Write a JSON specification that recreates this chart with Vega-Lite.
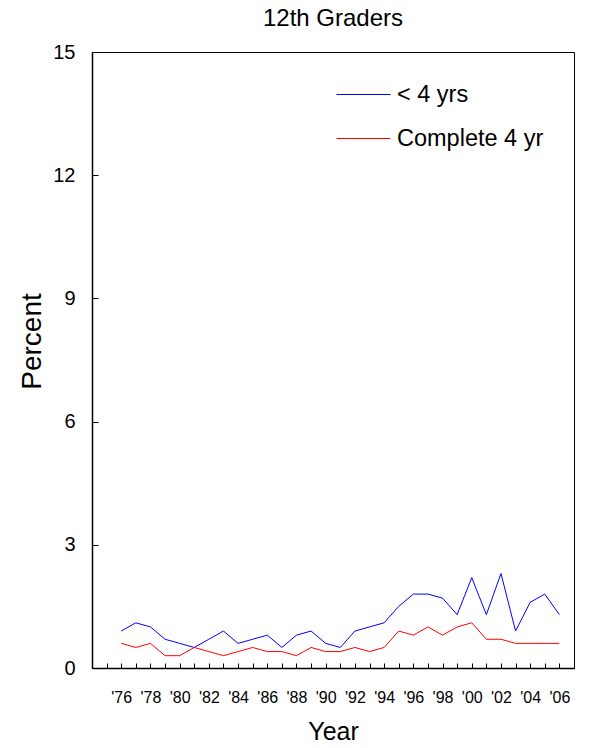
{
  "$schema": "https://vega.github.io/schema/vega-lite/v6.json",
  "autosize": {"type": "none"},
  "width": 482,
  "height": 616,
  "padding": {"left": 92, "top": 52, "right": 17, "bottom": 80},
  "background": "white",
  "config": {
    "font": "Liberation Sans",
    "view": {"stroke": "black", "strokeWidth": 1},
    "axis": {"domainColor": "black", "domainWidth": 1.5, "tickColor": "black", "labelColor": "black", "titleColor": "black", "grid": false, "titleFontWeight": "normal", "labelFont": "Liberation Sans", "titleFont": "Liberation Sans"}
  },
  "title": {"text": "12th Graders", "fontSize": 24, "fontWeight": "normal", "font": "Liberation Sans", "color": "black", "anchor": "middle", "baseline": "alphabetic", "offset": -8},
  "data": {
    "values": [
      {"year": 1976, "group": "< 4 yrs", "pct": 0.9},
      {"year": 1977, "group": "< 4 yrs", "pct": 1.1},
      {"year": 1978, "group": "< 4 yrs", "pct": 1.0},
      {"year": 1979, "group": "< 4 yrs", "pct": 0.7},
      {"year": 1980, "group": "< 4 yrs", "pct": 0.6},
      {"year": 1981, "group": "< 4 yrs", "pct": 0.5},
      {"year": 1982, "group": "< 4 yrs", "pct": 0.7},
      {"year": 1983, "group": "< 4 yrs", "pct": 0.9},
      {"year": 1984, "group": "< 4 yrs", "pct": 0.6},
      {"year": 1985, "group": "< 4 yrs", "pct": 0.7},
      {"year": 1986, "group": "< 4 yrs", "pct": 0.8},
      {"year": 1987, "group": "< 4 yrs", "pct": 0.5},
      {"year": 1988, "group": "< 4 yrs", "pct": 0.8},
      {"year": 1989, "group": "< 4 yrs", "pct": 0.9},
      {"year": 1990, "group": "< 4 yrs", "pct": 0.6},
      {"year": 1991, "group": "< 4 yrs", "pct": 0.5},
      {"year": 1992, "group": "< 4 yrs", "pct": 0.9},
      {"year": 1993, "group": "< 4 yrs", "pct": 1.0},
      {"year": 1994, "group": "< 4 yrs", "pct": 1.1},
      {"year": 1995, "group": "< 4 yrs", "pct": 1.5},
      {"year": 1996, "group": "< 4 yrs", "pct": 1.8},
      {"year": 1997, "group": "< 4 yrs", "pct": 1.8},
      {"year": 1998, "group": "< 4 yrs", "pct": 1.7},
      {"year": 1999, "group": "< 4 yrs", "pct": 1.3},
      {"year": 2000, "group": "< 4 yrs", "pct": 2.2},
      {"year": 2001, "group": "< 4 yrs", "pct": 1.3},
      {"year": 2002, "group": "< 4 yrs", "pct": 2.3},
      {"year": 2003, "group": "< 4 yrs", "pct": 0.9},
      {"year": 2004, "group": "< 4 yrs", "pct": 1.6},
      {"year": 2005, "group": "< 4 yrs", "pct": 1.8},
      {"year": 2006, "group": "< 4 yrs", "pct": 1.3},
      {"year": 1976, "group": "Complete 4 yr", "pct": 0.6},
      {"year": 1977, "group": "Complete 4 yr", "pct": 0.5},
      {"year": 1978, "group": "Complete 4 yr", "pct": 0.6},
      {"year": 1979, "group": "Complete 4 yr", "pct": 0.3},
      {"year": 1980, "group": "Complete 4 yr", "pct": 0.3},
      {"year": 1981, "group": "Complete 4 yr", "pct": 0.5},
      {"year": 1982, "group": "Complete 4 yr", "pct": 0.4},
      {"year": 1983, "group": "Complete 4 yr", "pct": 0.3},
      {"year": 1984, "group": "Complete 4 yr", "pct": 0.4},
      {"year": 1985, "group": "Complete 4 yr", "pct": 0.5},
      {"year": 1986, "group": "Complete 4 yr", "pct": 0.4},
      {"year": 1987, "group": "Complete 4 yr", "pct": 0.4},
      {"year": 1988, "group": "Complete 4 yr", "pct": 0.3},
      {"year": 1989, "group": "Complete 4 yr", "pct": 0.5},
      {"year": 1990, "group": "Complete 4 yr", "pct": 0.4},
      {"year": 1991, "group": "Complete 4 yr", "pct": 0.4},
      {"year": 1992, "group": "Complete 4 yr", "pct": 0.5},
      {"year": 1993, "group": "Complete 4 yr", "pct": 0.4},
      {"year": 1994, "group": "Complete 4 yr", "pct": 0.5},
      {"year": 1995, "group": "Complete 4 yr", "pct": 0.9},
      {"year": 1996, "group": "Complete 4 yr", "pct": 0.8},
      {"year": 1997, "group": "Complete 4 yr", "pct": 1.0},
      {"year": 1998, "group": "Complete 4 yr", "pct": 0.8},
      {"year": 1999, "group": "Complete 4 yr", "pct": 1.0},
      {"year": 2000, "group": "Complete 4 yr", "pct": 1.1},
      {"year": 2001, "group": "Complete 4 yr", "pct": 0.7},
      {"year": 2002, "group": "Complete 4 yr", "pct": 0.7},
      {"year": 2003, "group": "Complete 4 yr", "pct": 0.6},
      {"year": 2004, "group": "Complete 4 yr", "pct": 0.6},
      {"year": 2005, "group": "Complete 4 yr", "pct": 0.6},
      {"year": 2006, "group": "Complete 4 yr", "pct": 0.6}
    ]
  },
  "mark": {"type": "line", "strokeWidth": 1},
  "encoding": {
    "x": {
      "field": "year", "type": "quantitative",
      "scale": {"domain": [1974, 2007], "nice": false, "zero": false},
      "axis": {
        "values": [1975,1976,1977,1978,1979,1980,1981,1982,1983,1984,1985,1986,1987,1988,1989,1990,1991,1992,1993,1994,1995,1996,1997,1998,1999,2000,2001,2002,2003,2004,2005,2006],
        "format": "d",
        "labelExpr": "datum.value % 2 == 0 ? \"'\" + slice(datum.label, 2) : ''",
        "labelOverlap": false, "labelFlush": false,
        "tickSize": -5, "tickWidth": 1, "labelPadding": 26, "labelFontSize": 16,
        "title": "Year", "titleFontSize": 25, "titleBaseline": "middle", "titleY": 63
      }
    },
    "y": {
      "field": "pct", "type": "quantitative",
      "scale": {"domain": [0, 15], "nice": false},
      "axis": {
        "values": [0, 3, 6, 9, 12, 15],
        "tickSize": -6, "tickWidth": 1, "labelPadding": 23, "labelFontSize": 20,
        "title": "Percent", "titleFontSize": 28, "titleAngle": -90, "titleAlign": "center", "titleBaseline": "middle", "titleX": -60, "titleY": 289
      }
    },
    "color": {
      "field": "group", "type": "nominal",
      "scale": {"domain": ["< 4 yrs", "Complete 4 yr"], "range": ["#0000ff", "#ff0000"]},
      "legend": {
        "title": null, "orient": "none", "legendX": 244, "legendY": 15, "padding": 0,
        "symbolType": "stroke", "symbolSize": 2916, "symbolStrokeWidth": 1,
        "labelFontSize": 23.5, "labelColor": "black", "labelFont": "Liberation Sans", "labelOffset": 6, "rowPadding": 5
      }
    }
  }
}
